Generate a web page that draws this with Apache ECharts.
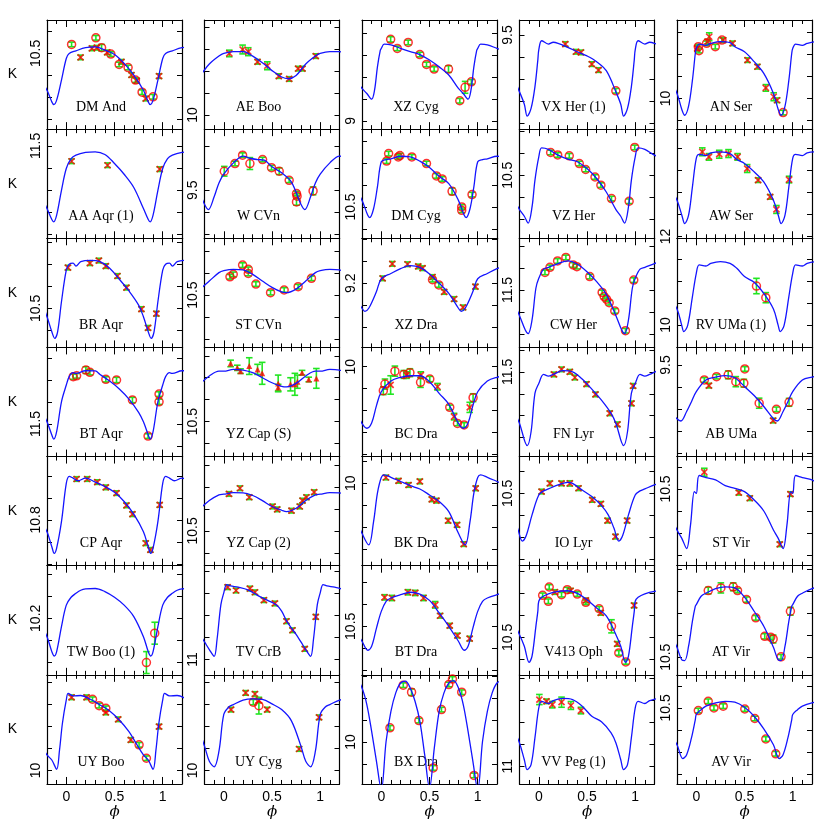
<!DOCTYPE html>
<html>
<head>
<meta charset="utf-8">
<script src="https://cdn.jsdelivr.net/npm/echarts@6/dist/echarts.min.js"></script>
<style>
  html, body { margin: 0; padding: 0; background: #fff; }
  #chart { width: 830px; height: 830px; }
</style>
</head>
<body>
<div id="chart"></div>
<script>
// panels are listed column by column, 7 rows per column
var names = [
  "DM And", "AA Aqr (1)", "BR Aqr", "BT Aqr", "CP Aqr", "TW Boo (1)", "UY Boo",
  "AE Boo", "W CVn", "ST CVn", "YZ Cap (S)", "YZ Cap (2)", "TV CrB", "UY Cyg",
  "XZ Cyg", "DM Cyg", "XZ Dra", "BC Dra", "BK Dra", "BT Dra", "BX Dra",
  "VX Her (1)", "VZ Her", "CW Her", "FN Lyr", "IO Lyr", "V413 Oph", "VV Peg (1)",
  "AN Ser", "AW Ser", "RV UMa (1)", "AB UMa", "ST Vir", "AT Vir", "AV Vir"
];
// the one labelled K value in each panel, and the tick step
var yLabel = [10.5, 11.5, 10.5, 11.5, 10.8, 10.2, 10, 10, 9.5, 10.5, 10.5, 10.5, 11, 10,
  9, 10.5, 9.2, 10, 10, 10.5, 10, 9.5, 10.5, 11.5, 11.5, 10.5, 10.5, 11,
  10, 12, 10, 9.5, 10.5, 10.5, 10.5];
var yStep = [0.1, 0.1, 0.1, 0.1, 0.05, 0.05, 0.1, 0.1, 0.1, 0.1, 0.1, 0.1, 0.1, 0.1,
  0.1, 0.1, 0.05, 0.1, 0.1, 0.1, 0.1, 0.1, 0.1, 0.1, 0.1, 0.1, 0.1, 0.1,
  0.1, 0.1, 0.1, 0.1, 0.1, 0.1, 0.1];
// K range (top = bright end)
var yTop = [10.348, 11.424, 10.182, 11.152, 10.656, 10.08, 9.565, 9.568, 9.223, 10.242, 10.162, 10.162, 10.573, 9.565,
  8.542, 10.147, 9.098, 9.912, 9.879, 10.224, 9.695, 9.432, 10.291, 11.265, 11.389, 10.333, 10.174, 10.585,
  9.644, 11.512, 9.606, 9.42, 10.353, 10.084, 10.35];
var yBottom = [10.844, 11.92, 10.677, 11.648, 10.904, 10.329, 10.061, 10.064, 9.718, 10.738, 10.659, 10.658, 11.07, 10.061,
  9.038, 10.642, 9.346, 10.409, 10.374, 10.721, 10.191, 9.927, 10.786, 11.761, 11.886, 10.829, 10.671, 11.08,
  10.139, 12.008, 10.102, 9.917, 10.848, 10.58, 10.845];
var phaseLabels = [0, 0.5, 1];

// template light curves over one cycle, [phase, K]
var curves = [
  [[0,10.523],[0.03,10.5],[0.1,10.488],[0.2,10.474],[0.3,10.47],[0.4,10.485],[0.5,10.505],[0.6,10.545],[0.7,10.598],[0.8,10.667],[0.85,10.72],[0.87,10.732],[0.9,10.712],[0.95,10.621]],
  [[0,11.603],[0.05,11.558],[0.1,11.542],[0.2,11.53],[0.3,11.527],[0.4,11.539],[0.5,11.58],[0.6,11.629],[0.7,11.689],[0.8,11.785],[0.85,11.835],[0.87,11.845],[0.9,11.815],[0.95,11.702]],
  [[0,10.326],[0.03,10.3],[0.07,10.295],[0.1,10.308],[0.15,10.288],[0.25,10.282],[0.35,10.288],[0.45,10.318],[0.55,10.368],[0.65,10.421],[0.75,10.485],[0.8,10.538],[0.85,10.606],[0.88,10.636],[0.91,10.606],[0.95,10.47]],
  [[0,11.323],[0.03,11.285],[0.07,11.267],[0.1,11.27],[0.2,11.258],[0.3,11.259],[0.35,11.275],[0.45,11.305],[0.55,11.341],[0.65,11.387],[0.75,11.447],[0.8,11.49],[0.85,11.55],[0.87,11.569],[0.9,11.535],[0.95,11.399]],
  [[0,10.717],[0.03,10.701],[0.07,10.705],[0.12,10.711],[0.2,10.705],[0.3,10.714],[0.4,10.724],[0.5,10.737],[0.6,10.758],[0.7,10.787],[0.8,10.827],[0.85,10.861],[0.875,10.876],[0.9,10.864],[0.95,10.804]],
  [[0,10.17],[0.05,10.152],[0.1,10.143],[0.15,10.136],[0.2,10.133],[0.3,10.132],[0.4,10.139],[0.5,10.152],[0.6,10.17],[0.7,10.196],[0.8,10.242],[0.85,10.276],[0.875,10.286],[0.9,10.276],[0.95,10.219]],
  [[0,9.679],[0.02,9.649],[0.07,9.661],[0.15,9.659],[0.25,9.676],[0.35,9.702],[0.45,9.729],[0.55,9.77],[0.65,9.823],[0.72,9.873],[0.8,9.929],[0.85,9.952],[0.9,9.994],[0.93,9.906],[0.96,9.785]],
  [[0,9.72],[0.1,9.712],[0.2,9.712],[0.3,9.732],[0.4,9.762],[0.5,9.798],[0.6,9.827],[0.67,9.835],[0.75,9.82],[0.85,9.768],[0.95,9.732]],
  [[0,9.427],[0.1,9.376],[0.2,9.345],[0.27,9.355],[0.35,9.361],[0.42,9.364],[0.5,9.394],[0.6,9.421],[0.7,9.462],[0.8,9.564],[0.84,9.588],[0.9,9.53],[0.95,9.467]],
  [[0,10.389],[0.1,10.383],[0.2,10.386],[0.3,10.406],[0.4,10.436],[0.5,10.465],[0.6,10.486],[0.65,10.489],[0.75,10.473],[0.85,10.436],[0.95,10.398]],
  [[0,10.27],[0.1,10.262],[0.2,10.265],[0.3,10.277],[0.4,10.3],[0.5,10.323],[0.6,10.339],[0.65,10.342],[0.75,10.326],[0.85,10.292],[0.95,10.27]],
  [[0,10.333],[0.1,10.326],[0.2,10.327],[0.3,10.339],[0.4,10.362],[0.5,10.389],[0.6,10.406],[0.65,10.412],[0.75,10.397],[0.85,10.362],[0.95,10.336]],
  [[0,10.697],[0.03,10.659],[0.07,10.665],[0.15,10.671],[0.25,10.683],[0.35,10.708],[0.45,10.73],[0.55,10.753],[0.6,10.78],[0.65,10.823],[0.7,10.856],[0.75,10.886],[0.8,10.92],[0.85,10.955],[0.9,10.986],[0.93,10.909],[0.97,10.75]],
  [[0,9.745],[0.05,9.712],[0.1,9.7],[0.2,9.68],[0.3,9.674],[0.4,9.677],[0.5,9.697],[0.6,9.723],[0.7,9.773],[0.8,9.889],[0.85,9.958],[0.9,9.983],[0.95,9.912]],
  [[0,8.671],[0.03,8.652],[0.1,8.655],[0.2,8.671],[0.3,8.686],[0.4,8.699],[0.5,8.724],[0.6,8.755],[0.7,8.792],[0.8,8.853],[0.85,8.876],[0.9,8.902],[0.93,8.861],[0.96,8.755],[0.99,8.679]],
  [[0,10.295],[0.05,10.285],[0.1,10.282],[0.2,10.27],[0.3,10.273],[0.4,10.292],[0.5,10.321],[0.6,10.361],[0.7,10.394],[0.8,10.47],[0.86,10.538],[0.88,10.548],[0.92,10.508],[0.96,10.409]],
  [[0,9.19],[0.1,9.178],[0.2,9.167],[0.3,9.16],[0.4,9.164],[0.5,9.179],[0.6,9.2],[0.7,9.223],[0.8,9.257],[0.83,9.264],[0.87,9.257],[0.95,9.219]],
  [[0,10.114],[0.1,10.065],[0.2,10.048],[0.3,10.041],[0.4,10.041],[0.5,10.068],[0.6,10.121],[0.7,10.171],[0.8,10.258],[0.85,10.28],[0.9,10.256],[0.95,10.177]],
  [[0,9.974],[0.03,9.962],[0.1,9.973],[0.2,9.992],[0.3,10.011],[0.4,10.026],[0.5,10.053],[0.6,10.083],[0.7,10.129],[0.8,10.227],[0.87,10.28],[0.92,10.174],[0.96,10.045]],
  [[0,10.432],[0.05,10.386],[0.1,10.371],[0.2,10.356],[0.3,10.345],[0.4,10.353],[0.5,10.382],[0.6,10.439],[0.7,10.5],[0.8,10.568],[0.86,10.609],[0.9,10.591],[0.95,10.508]],
  [[0,10.217],[0.05,9.997],[0.1,9.861],[0.15,9.777],[0.2,9.732],[0.25,9.724],[0.3,9.755],[0.35,9.815],[0.4,9.906],[0.45,10.058],[0.5,10.209],[0.55,10.027],[0.6,9.861],[0.65,9.777],[0.7,9.732],[0.75,9.721],[0.8,9.755],[0.85,9.83],[0.9,9.952],[0.95,10.088]],
  [[0,9.568],[0.03,9.526],[0.1,9.541],[0.15,9.533],[0.2,9.538],[0.3,9.556],[0.4,9.576],[0.5,9.595],[0.6,9.621],[0.7,9.662],[0.8,9.758],[0.85,9.814],[0.88,9.868],[0.92,9.833],[0.96,9.735],[0.99,9.614]],
  [[0,10.417],[0.03,10.376],[0.1,10.383],[0.2,10.409],[0.3,10.427],[0.4,10.439],[0.5,10.47],[0.6,10.515],[0.7,10.576],[0.8,10.656],[0.85,10.686],[0.89,10.717],[0.93,10.644],[0.96,10.523]],
  [[0,11.447],[0.05,11.405],[0.1,11.397],[0.2,11.38],[0.3,11.368],[0.4,11.383],[0.5,11.417],[0.6,11.462],[0.7,11.52],[0.8,11.617],[0.86,11.682],[0.89,11.698],[0.93,11.636],[0.97,11.492]],
  [[0,11.553],[0.05,11.512],[0.1,11.52],[0.15,11.512],[0.25,11.495],[0.35,11.5],[0.45,11.533],[0.55,11.579],[0.65,11.629],[0.75,11.689],[0.8,11.735],[0.88,11.836],[0.92,11.773],[0.96,11.598]],
  [[0,10.508],[0.05,10.489],[0.1,10.48],[0.2,10.462],[0.3,10.45],[0.35,10.455],[0.45,10.485],[0.55,10.515],[0.65,10.556],[0.72,10.598],[0.78,10.659],[0.83,10.717],[0.87,10.692],[0.93,10.598]],
  [[0,10.336],[0.03,10.318],[0.1,10.302],[0.2,10.291],[0.3,10.288],[0.4,10.3],[0.5,10.329],[0.6,10.367],[0.7,10.402],[0.8,10.488],[0.85,10.541],[0.9,10.614],[0.93,10.586],[0.97,10.45],[0.99,10.382]],
  [[0,10.735],[0.03,10.705],[0.1,10.715],[0.15,10.702],[0.25,10.692],[0.35,10.697],[0.45,10.727],[0.55,10.773],[0.65,10.798],[0.75,10.848],[0.8,10.894],[0.85,10.97],[0.88,11.015],[0.92,10.992],[0.96,10.871]],
  [[0,9.773],[0.03,9.753],[0.1,9.759],[0.15,9.75],[0.25,9.742],[0.35,9.747],[0.4,9.765],[0.5,9.788],[0.6,9.833],[0.7,9.886],[0.8,9.977],[0.85,10.05],[0.88,10.076],[0.92,10.035],[0.96,9.917],[0.99,9.795]],
  [[0,11.645],[0.03,11.627],[0.1,11.632],[0.15,11.62],[0.25,11.615],[0.35,11.623],[0.42,11.65],[0.5,11.668],[0.6,11.706],[0.7,11.752],[0.8,11.835],[0.85,11.903],[0.88,11.941],[0.92,11.903],[0.96,11.774]],
  [[0,9.765],[0.03,9.727],[0.1,9.732],[0.15,9.72],[0.25,9.712],[0.35,9.72],[0.42,9.742],[0.5,9.78],[0.6,9.806],[0.7,9.856],[0.8,9.927],[0.85,10.003],[0.87,10.03],[0.91,10.003],[0.96,9.871]],
  [[0,9.621],[0.1,9.568],[0.2,9.555],[0.3,9.548],[0.4,9.558],[0.5,9.598],[0.6,9.639],[0.7,9.689],[0.8,9.745],[0.84,9.755],[0.9,9.712],[0.95,9.667]],
  [[0,10.52],[0.03,10.439],[0.1,10.448],[0.2,10.459],[0.3,10.485],[0.4,10.497],[0.5,10.512],[0.6,10.55],[0.7,10.6],[0.8,10.686],[0.85,10.724],[0.9,10.77],[0.94,10.664],[0.98,10.512]],
  [[0,10.261],[0.05,10.223],[0.1,10.209],[0.2,10.188],[0.3,10.18],[0.4,10.185],[0.5,10.227],[0.6,10.291],[0.7,10.359],[0.8,10.455],[0.85,10.512],[0.88,10.515],[0.92,10.45],[0.96,10.336],[0.99,10.268]],
  [[0,10.53],[0.05,10.508],[0.1,10.492],[0.2,10.477],[0.3,10.47],[0.4,10.474],[0.5,10.497],[0.6,10.538],[0.7,10.595],[0.8,10.667],[0.86,10.73],[0.9,10.712],[0.95,10.636],[0.99,10.553]]
];

// measurements: [phase, K, kind, error]; kind 0 = cross, 1 = circle, 2 = triangle
var points = [
  [[0.055,10.459,1],[0.148,10.518,0],[0.266,10.477,0],[0.307,10.429,1],[0.317,10.474,0],[0.366,10.474,1,0.015],[0.424,10.495,0],[0.462,10.503,1],[0.548,10.55,1],[0.572,10.538,0],[0.641,10.564,1],[0.676,10.598,0],[0.717,10.621,1],[0.731,10.624,0],[0.786,10.676,1],[0.824,10.705,0],[0.9,10.697,1],[0.962,10.603,0]],
  [[0.055,11.57,0],[0.428,11.588,0],[0.969,11.606,0]],
  [[0.017,10.315,0],[0.245,10.295,0],[0.338,10.283,0],[0.41,10.308,0],[0.531,10.353,0],[0.624,10.406,0],[0.779,10.503,0],[0.848,10.588,0],[0.934,10.524,0]],
  [[0.072,11.285,1,0.012],[0.107,11.281,1],[0.203,11.255,1,0.015],[0.245,11.265,1,0.012],[0.41,11.297,1,0.012],[0.521,11.3,1,0.012],[0.686,11.391,1,0.012],[0.848,11.555,1],[0.962,11.364,1],[0.962,11.399,1,0.012]],
  [[0.107,10.707,0],[0.217,10.707,0],[0.321,10.714,0],[0.41,10.726,0],[0.521,10.739,0],[0.624,10.767,0],[0.686,10.787,0],[0.824,10.853,0],[0.872,10.868,0],[0.969,10.766,0]],
  [[0.831,10.301,1,0.025],[0.917,10.234,1,0.025]],
  [[0.055,9.667,0],[0.21,9.667,0],[0.272,9.676,1],[0.341,9.705,1],[0.41,9.717,1],[0.41,9.736,0],[0.538,9.767,0],[0.669,9.861,0],[0.755,9.883,1],[0.831,9.944,1],[0.962,9.8,0]],
  [[0.057,9.72,0,0.015],[0.195,9.702,0,0.02],[0.254,9.712,0,0.018],[0.35,9.758,0],[0.451,9.776,0,0.018],[0.571,9.823,0],[0.678,9.836,0],[0.771,9.789,0],[0.816,9.789,0],[0.954,9.732,0]],
  [[0.005,9.414,1,0.022],[0.116,9.379,1],[0.195,9.341,1],[0.271,9.379,1,0.027],[0.402,9.361,1],[0.495,9.398,1],[0.575,9.414,1,0.015],[0.678,9.455,1],[0.754,9.515,1],[0.76,9.527,1],[0.754,9.553,1,0.015],[0.926,9.503,1,0.018]],
  [[0.064,10.417,1],[0.098,10.406,1],[0.195,10.364,1],[0.254,10.383,1],[0.254,10.402,1],[0.333,10.45,1],[0.485,10.489,1],[0.626,10.477,1],[0.771,10.462,1],[0.909,10.424,1]],
  [[0.071,10.235,2,0.015],[0.14,10.255,2,0.012],[0.174,10.27,2],[0.264,10.247,2,0.038],[0.35,10.262,2,0.023],[0.398,10.28,2,0.05],[0.564,10.326,2,0.038],[0.564,10.345,2,0.015],[0.692,10.33,2,0.03],[0.737,10.33,2,0.05],[0.764,10.318,2,0.03],[0.812,10.277,2],[0.881,10.308,2],[0.96,10.303,2,0.045]],
  [[0.054,10.332,0],[0.168,10.306,0],[0.264,10.347,0],[0.506,10.389,0],[0.554,10.402,0],[0.702,10.408,0],[0.788,10.389,0],[0.816,10.362,0],[0.857,10.347,0],[0.937,10.324,0]],
  [[0.04,10.671,0],[0.127,10.686,0],[0.271,10.677,0],[0.323,10.694,0],[0.416,10.73,0],[0.53,10.745,0],[0.65,10.826,0],[0.712,10.867,0],[0.84,10.952,0],[0.954,10.806,0]],
  [[0.075,9.723,0],[0.227,9.647,0],[0.306,9.689,1,0.012],[0.323,9.652,0],[0.364,9.682,0],[0.364,9.705,1,0.038],[0.45,9.723,0],[0.781,9.902,0],[0.988,9.758,0]],
  [[0.097,8.63,1,0.012],[0.166,8.671,1],[0.279,8.644,1],[0.4,8.699,1],[0.469,8.744,1],[0.548,8.765,1],[0.697,8.765,1,0.015],[0.814,8.909,1],[0.869,8.848,1,0.027],[0.934,8.823,1]],
  [[0.055,10.292,1],[0.076,10.258,1],[0.176,10.273,1],[0.193,10.267,1],[0.317,10.273,1],[0.469,10.303,1],[0.572,10.359,1],[0.631,10.373,1],[0.734,10.429,1,0.015],[0.834,10.5,1],[0.834,10.515,1],[0.941,10.444,1]],
  [[0.014,9.189,0],[0.114,9.156,0],[0.272,9.157,0],[0.383,9.162,0],[0.428,9.166,0],[0.531,9.186,0],[0.531,9.192,1],[0.597,9.204,1],[0.652,9.22,0],[0.755,9.236,0],[0.848,9.255,0],[0.976,9.208,0]],
  [[0.021,10.109,1,0.018],[0.038,10.079,1,0.023],[0.097,10.083,0,0.042],[0.141,10.02,1,0.023],[0.234,10.035,1,0.018],[0.262,10.038,0,0.015],[0.297,10.027,1,0.018],[0.41,10.038,0,0.015],[0.407,10.071,1,0.023],[0.503,10.056,1,0.012],[0.583,10.091,0,0.015],[0.71,10.185,1],[0.755,10.227,0,0.015],[0.79,10.258,1],[0.859,10.265,1],[0.917,10.185,0,0.023],[0.952,10.141,1,0.018]],
  [[0.048,9.974,0],[0.179,9.989,0],[0.283,10.008,0],[0.4,9.992,0],[0.524,10.073,0],[0.572,10.079,0],[0.693,10.17,0],[0.786,10.189,0],[0.855,10.276,0],[0.979,10.023,0]],
  [[0.034,10.368,0,0.012],[0.11,10.371,0,0.012],[0.276,10.345,0,0.012],[0.352,10.348,0,0.012],[0.438,10.371,0,0.012],[0.559,10.402,0,0.015],[0.61,10.452,0],[0.71,10.497,0],[0.79,10.542,0],[0.917,10.556,0]],
  [[0.09,9.936,1],[0.228,9.742,1],[0.314,9.774,1,0.015],[0.39,9.903,1],[0.538,10.118,1],[0.624,9.853,1],[0.7,9.739,1],[0.738,9.714,1],[0.834,9.774,1],[0.962,10.152,1]],
  [[0.275,9.541,0],[0.386,9.576,0],[0.437,9.579,0],[0.55,9.632,0],[0.619,9.659,0],[0.799,9.753,1]],
  [[0.123,10.397,1],[0.196,10.408,1],[0.316,10.412,1],[0.42,10.447,1],[0.486,10.474,1],[0.583,10.508,1],[0.644,10.545,1],[0.754,10.606,1],[0.937,10.618,1],[0.995,10.374,1]],
  [[0.064,11.42,1],[0.116,11.397,1],[0.195,11.368,1],[0.281,11.352,1],[0.357,11.386,1],[0.395,11.394,1],[0.529,11.439,1],[0.657,11.511,1],[0.678,11.53,1],[0.702,11.542,1],[0.73,11.558,1],[0.788,11.595,1],[0.899,11.685,1],[0.985,11.455,1]],
  [[0.157,11.512,0],[0.236,11.489,0],[0.322,11.5,0],[0.374,11.526,0],[0.495,11.556,0],[0.588,11.603,0],[0.736,11.689,0],[0.816,11.739,0],[0.961,11.644,0],[0.978,11.564,0]],
  [[0.029,10.492,0],[0.115,10.455,0],[0.236,10.455,0],[0.322,10.455,0,0.012],[0.412,10.477,0],[0.554,10.53,0],[0.644,10.548,0],[0.713,10.624,0],[0.795,10.697,0],[0.916,10.624,0]],
  [[0.04,10.309,1],[0.099,10.336,1],[0.108,10.271,1],[0.167,10.294,0],[0.236,10.306,1],[0.295,10.283,1],[0.33,10.288,0],[0.399,10.303,1],[0.488,10.341,1],[0.488,10.332,0],[0.626,10.37,1],[0.643,10.389,0],[0.754,10.45,1,0.03],[0.813,10.53,0],[0.83,10.571,1],[0.902,10.612,1],[0.988,10.355,0]],
  [[0.006,10.697,0,0.023],[0.08,10.705,0],[0.14,10.72,0,0.015],[0.236,10.709,0,0.023],[0.333,10.724,0,0.018],[0.437,10.747,0,0.015]],
  [[0.01,9.773,0,0.012],[0.021,9.765,1],[0.028,9.783,1],[0.107,9.75,1],[0.117,9.742,0],[0.134,9.72,0,0.018],[0.197,9.765,1],[0.266,9.735,1],[0.279,9.735,0],[0.376,9.75,0],[0.531,9.826,0],[0.634,9.856,0],[0.721,9.952,0,0.015],[0.803,9.992,0,0.018],[0.838,10.008,0],[0.9,10.064,1]],
  [[0.062,11.615,0,0.018],[0.131,11.638,0,0.015],[0.238,11.626,0,0.018],[0.334,11.623,0,0.018],[0.428,11.638,0,0.015],[0.528,11.691,0,0.018],[0.641,11.744,0],[0.766,11.82,0],[0.831,11.877,0,0.018],[0.962,11.741,0,0.015]],
  [[0.624,9.823,1,0.035],[0.721,9.876,1,0.023]],
  [[0.083,9.568,1],[0.131,9.594,0],[0.21,9.553,1],[0.331,9.545,1,0.018],[0.41,9.576,1,0.023],[0.503,9.518,1],[0.493,9.583,1,0.018],[0.652,9.674,1,0.023],[0.797,9.753,0],[0.831,9.702,1],[0.962,9.67,1,0.018]],
  [[0.083,10.424,0,0.018],[0.441,10.517,0],[0.555,10.542,0],[0.866,10.751,0],[0.976,10.523,0]],
  [[0.124,10.197,1,0.015],[0.255,10.185,1,0.023],[0.383,10.18,1,0.018],[0.428,10.197,1],[0.521,10.238,1,0.012],[0.617,10.321,1],[0.71,10.405,1,0.012],[0.772,10.409,1],[0.797,10.417,1,0.018],[0.879,10.498,1],[0.976,10.291,1,0.018]],
  [[0.021,10.512,1],[0.124,10.47,1],[0.183,10.5,1],[0.279,10.492,1],[0.503,10.505,1],[0.607,10.548,1],[0.721,10.641,1],[0.824,10.708,1]]
];

var chart = echarts.init(document.getElementById("chart"));
var FONT = "Liberation Sans";
var grid = [], xAxis = [], yAxis = [], series = [], graphic = [];

// repeat one cycle so the curve covers phase -0.2 .. 1.2
function foldCurve(c) {
  var out = [];
  [-1, 0, 1].forEach(function (s) {
    c.forEach(function (p) {
      var x = p[0] + s;
      if (x > -0.45 && x < 1.45) out.push([x, p[1]]);
    });
  });
  return out;
}

function errBar(params, api) {
  var x = api.value(0), y = api.value(1), e = api.value(2);
  var c = api.coord([x, y]);
  var h = Math.max(Math.abs(api.coord([x, y + e])[1] - c[1]), 2.3);
  var w = 3.3;
  var st = { stroke: "#22e622", lineWidth: 1.6 };
  return {
    type: "group",
    children: [
      { type: "line", shape: { x1: c[0], y1: c[1] - h, x2: c[0], y2: c[1] + h }, style: st },
      { type: "line", shape: { x1: c[0] - w, y1: c[1] - h, x2: c[0] + w, y2: c[1] - h }, style: st },
      { type: "line", shape: { x1: c[0] - w, y1: c[1] + h, x2: c[0] + w, y2: c[1] + h }, style: st }
    ]
  };
}

var marks = ["path://M0,0L10,10M10,0L0,10", "circle", "triangle"];

names.forEach(function (nm, i) {
  var col = Math.floor(i / 7), row = i % 7;
  var left = 47 + col * 157.5, top = 20 + row * 109.14;
  grid.push({ left: left, top: top, width: 135, height: 109.14 });

  var frame = { show: true, onZero: false, lineStyle: { color: "#000", width: 1.2 } };
  var noLine = { show: false, onZero: false };
  var tick = function (len) {
    return { show: true, inside: true, length: len, lineStyle: { color: "#000", width: 1 } };
  };
  // minor phase ticks (every 0.1), bottom and top
  xAxis.push({
    gridIndex: i, type: "value", min: -0.2, max: 1.2, interval: 0.1, position: "bottom",
    axisLine: frame, axisTick: tick(4), splitLine: { show: false },
    axisLabel: {
      show: row === 6, margin: 6, fontSize: 14, color: "#000", fontFamily: FONT,
      formatter: function (v) {
        for (var k = 0; k < phaseLabels.length; k++) {
          if (Math.abs(v - phaseLabels[k]) < 1e-6) return String(phaseLabels[k]);
        }
        return "";
      }
    },
    name: row === 6 ? "\u03d5" : "", nameLocation: "middle", nameGap: 21,
    nameTextStyle: { fontSize: 15, fontStyle: "italic", fontFamily: "DejaVu Serif", color: "#000" }
  });
  xAxis.push({
    gridIndex: i, type: "value", min: -0.2, max: 1.2, interval: 0.1, position: "top",
    axisLine: frame, axisTick: tick(4), axisLabel: { show: false }, splitLine: { show: false }
  });
  // longer ticks at 0, 0.5, 1
  [ "bottom", "top" ].forEach(function (pos) {
    xAxis.push({
      gridIndex: i, type: "value", min: -0.2, max: 1.2, minInterval: 0.5, maxInterval: 0.5,
      position: pos, axisLine: noLine, axisTick: tick(7), axisLabel: { show: false },
      splitLine: { show: false }
    });
  });

  var lab = yLabel[i];
  yAxis.push({
    gridIndex: i, type: "value", inverse: true, min: yTop[i], max: yBottom[i],
    minInterval: yStep[i], maxInterval: yStep[i], position: "left",
    axisLine: frame, axisTick: tick(5), splitLine: { show: false },
    axisLabel: {
      rotate: 90, margin: 4, fontSize: 14, color: "#000", fontFamily: FONT,
      formatter: function (v) { return Math.abs(v - lab) < 1e-6 ? String(lab) : ""; }
    },
    name: col === 0 ? "K" : "", nameLocation: "middle", nameGap: 30, nameRotate: 0,
    nameTextStyle: { fontSize: 14, color: "#000", fontFamily: FONT }
  });
  yAxis.push({
    gridIndex: i, type: "value", inverse: true, min: yTop[i], max: yBottom[i],
    minInterval: yStep[i], maxInterval: yStep[i], position: "right",
    axisLine: frame, axisTick: tick(5), axisLabel: { show: false }, splitLine: { show: false }
  });

  var xi = 4 * i, yi = 2 * i;
  series.push({
    type: "line", xAxisIndex: xi, yAxisIndex: yi, data: foldCurve(curves[i]),
    showSymbol: false, smooth: 0.35, clip: true, silent: true,
    lineStyle: { color: "#1414ff", width: 1.3 }
  });
  series.push({
    type: "custom", xAxisIndex: xi, yAxisIndex: yi, renderItem: errBar, silent: true,
    data: points[i].map(function (p) { return [p[0], p[1], p[3] || 0]; })
  });
  series.push({
    type: "scatter", xAxisIndex: xi, yAxisIndex: yi, silent: true,
    data: points[i].map(function (p) {
      var k = p[2];
      return {
        value: [p[0], p[1]],
        symbol: marks[k],
        symbolSize: k === 1 ? 8 : 6,
        itemStyle: k === 2
          ? { color: "#ff0000" }
          : { color: "rgba(0,0,0,0)", borderColor: "#ff0000", borderWidth: k === 1 ? 1.5 : 1.7 }
      };
    })
  });

  graphic.push({
    type: "text", x: left + 54, y: top + 87, silent: true,
    style: {
      text: nm, fill: "#000", font: '14px "Liberation Serif"',
      textAlign: "center", textVerticalAlign: "middle", align: "center", verticalAlign: "middle"
    }
  });
});

chart.setOption({
  animation: false,
  backgroundColor: "#fff",
  grid: grid,
  xAxis: xAxis,
  yAxis: yAxis,
  series: series,
  graphic: graphic
});
</script>
</body>
</html>
